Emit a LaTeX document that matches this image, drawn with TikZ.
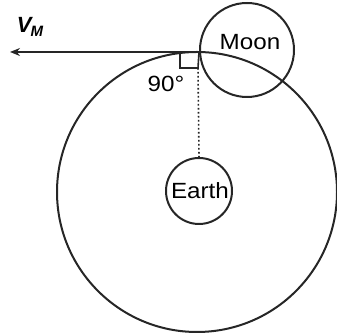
\documentclass[tikz,border=0pt]{standalone}
\usepackage{fontspec}
\setmainfont{Liberation Sans}
\usetikzlibrary{arrows.meta}
\begin{document}
\begin{tikzpicture}[x=1pt,y=1pt,
  ln/.style={line width=2pt,black!85},
  lbl/.style={font=\fontsize{22}{24}\selectfont,inner sep=0pt,xscale=1.1}]
\useasboundingbox (0,0) rectangle (337,336);
\node[circle,draw,ln,minimum size=280pt,inner sep=0pt] (orbit) at (197,144) {};
\node[circle,draw,ln,minimum size=66pt,inner sep=0pt] (earth) at (199,145) {};
\node[lbl] (earthlbl) at (200,145) {Earth};
\node[circle,draw,ln,minimum size=94pt,inner sep=0pt] (moon) at (247,286) {};
\node[lbl] (moonlbl) at (250,294) {Moon};
\coordinate (tangent) at (199,284);
\coordinate (tip) at (10,284);
\draw[ln,-{Stealth[length=10pt,width=8pt]}] (tangent) -- (tip);
\coordinate (ra1) at (180,284);
\coordinate (ra2) at (180,268);
\coordinate (ra3) at (198,268);
\draw[line width=1.6pt,black!85] (ra1) -- (ra2) -- (ra3) -- (tangent);
\draw[line width=1.6pt,black!85,dash pattern=on 1.6pt off 2.4pt] (ra3) -- (earth.north);
\node[lbl] (ang) at (166,252) {90°};
\node[font=\fontsize{22}{24}\selectfont\itshape\bfseries,inner sep=0pt] (vm) at (30,309) {V\kern-1pt\raisebox{-4pt}{\fontsize{15}{17}\selectfont M}};
\end{tikzpicture}
\end{document}
